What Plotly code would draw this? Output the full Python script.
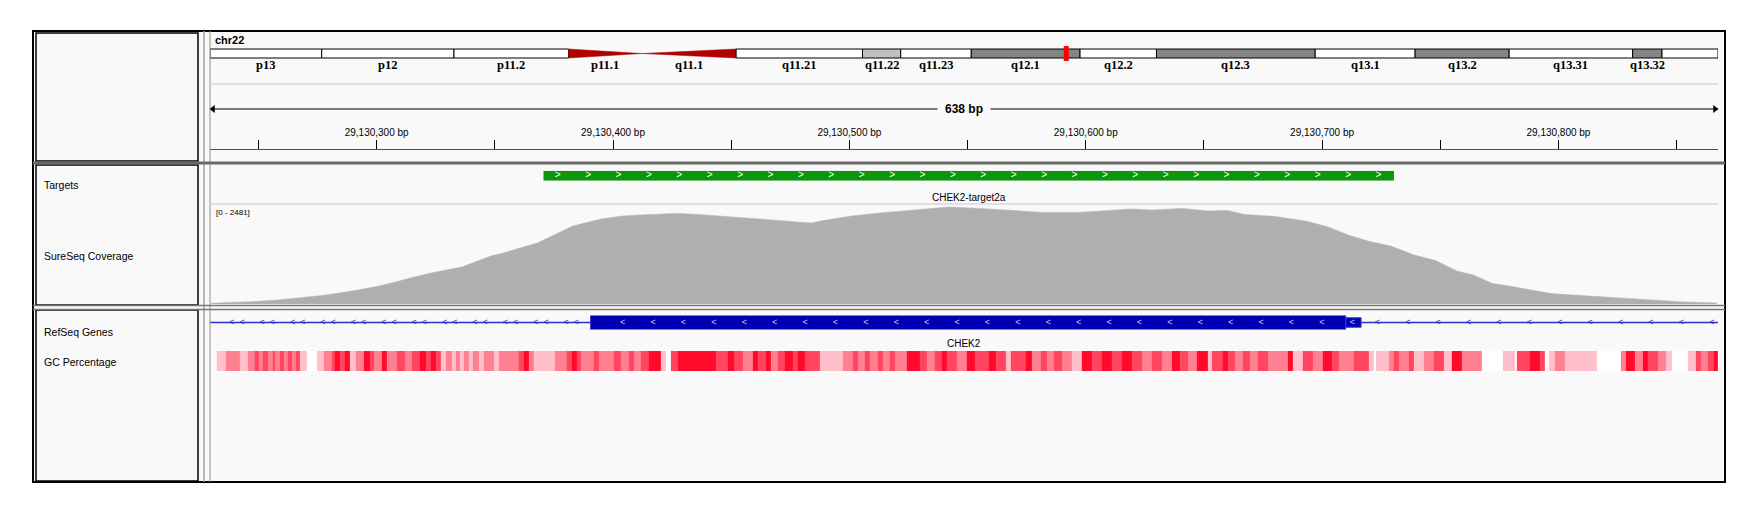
import numpy as np
import plotly.graph_objects as go

W, H = 1759, 518

# ---- data ----
chrom = "chr22"
chrom_len_mb = 51.304566
view_start = 29130229.5
view_end = 29130867.5

band_names = ["p13", "p12", "p11.2", "p11.1", "q11.1", "q11.21", "q11.22", "q11.23",
              "q12.1", "q12.2", "q12.3", "q13.1", "q13.2", "q13.31", "q13.32", "q13.33"]
band_labels = ["p13", "p12", "p11.2", "p11.1", "q11.1", "q11.21", "q11.22", "q11.23",
               "q12.1", "q12.2", "q12.3", "q13.1", "q13.2", "q13.31", "q13.32", ""]
band_start_mb = [0.0, 3.8, 8.3, 12.2, 14.7, 17.9, 22.2, 23.5, 25.9, 29.6, 32.2, 37.6, 41.0, 44.2, 48.4, 49.4]
band_end_mb = [3.8, 8.3, 12.2, 14.7, 17.9, 22.2, 23.5, 25.9, 29.6, 32.2, 37.6, 41.0, 44.2, 48.4, 49.4, 51.304566]
band_stain = ["gvar", "stalk", "gvar", "acen", "acen", "gneg", "gpos25", "gneg",
              "gpos50", "gneg", "gpos50", "gneg", "gpos50", "gneg", "gpos50", "gneg"]

target_name = "CHEK2-target2a"
target_start = 29130370.6
target_end = 29130730.4

gene_name = "CHEK2"
gene_tx_start = 29083730
gene_tx_end = 29137822
exon_start = 29130390.5
cds_end = 29130710.0
exon_end = 29130716.5

cov_max = 2481
cov_pos = [29130230, 29130236, 29130247, 29130257, 29130266, 29130278, 29130291, 29130300,
           29130308, 29130315, 29130323, 29130336, 29130349, 29130352, 29130368, 29130383,
           29130395, 29130404, 29130416, 29130427, 29130436, 29130448, 29130462, 29130478,
           29130484, 29130489, 29130501, 29130513, 29130527, 29130542, 29130555, 29130568,
           29130582, 29130597, 29130610, 29130619, 29130628, 29130641, 29130652, 29130660,
           29130667, 29130680, 29130693, 29130702, 29130711, 29130720, 29130729, 29130739,
           29130748, 29130757, 29130764, 29130772, 29130779, 29130786, 29130797, 29130803,
           29130827, 29130851, 29130867]
cov_depth = [20, 30, 57, 92, 144, 218, 335, 434,
             546, 660, 769, 918, 1203, 1240, 1513, 1935,
             2109, 2183, 2223, 2248, 2223, 2163, 2109, 2034,
             2010, 2072, 2183, 2258, 2332, 2407, 2372, 2322,
             2273, 2273, 2322, 2357, 2332, 2372, 2307, 2322,
             2223, 2173, 2059, 1923, 1712, 1553, 1439, 1216,
             1077, 819, 719, 509, 447, 367, 258, 236,
             139, 57, 25]

# GC percentage windows: edges are bp offsets from view_start
gc_edges = [2.9, 6.5, 12.8, 16.0, 19.1, 20.8, 22.3, 24.4, 26.5, 27.6,
            29.7, 31.1, 32.8, 34.5, 36.4, 38.1, 40.8, 45.0, 48.2, 51.4,
            52.8, 54.9, 57.0, 59.2, 61.7, 65.0, 67.6, 69.3, 72.8, 74.9,
            79.2, 82.3, 85.5, 88.6, 91.2, 93.3, 95.4, 97.5, 99.6, 102.3,
            104.0, 105.5, 107.2, 109.7, 111.4, 113.9, 116.0, 120.2, 122.3, 130.7,
            132.9, 135.0, 137.1, 145.9, 150.8, 152.9, 155.0, 157.1, 162.3, 164.4,
            170.8, 173.9, 177.1, 179.2, 182.3, 185.5, 190.8, 192.9, 195.0, 198.1,
            213.9, 219.2, 221.7, 225.5, 229.7, 231.8, 235.0, 237.1, 240.2, 243.4,
            246.6, 248.7, 251.8, 258.1, 267.6, 271.8, 273.9, 277.1, 279.2, 282.4,
            284.5, 287.6, 289.7, 295.0, 300.3, 303.4, 306.6, 309.7, 311.8, 316.1,
            320.3, 323.5, 329.4, 332.5, 336.8, 338.9, 345.3, 347.5, 351.7, 353.9,
            357.0, 360.2, 364.5, 368.8, 373.0, 377.3, 381.5, 385.8, 390.1, 394.3,
            398.6, 402.8, 407.1, 410.3, 413.5, 417.7, 422.0, 423.7, 428.4, 430.5,
            433.7, 436.9, 440.1, 443.3, 447.6, 456.1, 458.2, 462.5, 466.7, 471.0,
            474.8, 477.4, 483.8, 490.2, 492.3, 493.4, 498.7, 500.8, 503.0, 507.2,
            509.3, 513.6, 517.9, 522.1, 525.3, 529.6, 538.1, 547.0, 551.9, 553.0,
            558.3, 562.6, 564.7, 566.4, 569.0, 573.2, 586.7, 596.7, 598.8, 603.0,
            606.2, 608.4, 612.6, 615.8, 618.6, 625.4, 628.6, 630.7, 633.9, 636.1,
            638.0]
gc_values = [35, 50, 35, 50, 62, 50, 62, 50, 62, 50,
             62, 50, 62, 50, 62, 35, 0, 35, 50, 62,
             75, 62, 75, 35, 50, 75, 62, 50, 75, 50,
             62, 50, 62, 75, 62, 75, 62, 35, 50, 35,
             50, 35, 50, 35, 50, 35, 50, 35, 50, 62,
             75, 50, 35, 50, 62, 75, 62, 50, 62, 50,
             62, 50, 62, 50, 62, 75, 35, 0, 62, 75,
             62, 75, 62, 50, 75, 62, 75, 50, 62, 75,
             62, 75, 62, 35, 50, 62, 50, 62, 50, 62,
             50, 62, 50, 75, 62, 50, 62, 75, 62, 50,
             75, 62, 75, 62, 35, 62, 75, 50, 62, 50,
             62, 50, 35, 75, 62, 75, 62, 75, 62, 50,
             62, 50, 75, 62, 50, 75, 35, 62, 75, 62,
             50, 62, 50, 62, 50, 75, 35, 62, 50, 75,
             62, 50, 62, 35, 0, 35, 50, 62, 50, 62,
             35, 50, 62, 35, 75, 50, 0, 35, 0, 62,
             75, 62, 0, 35, 50, 35, 0, 50, 75, 50,
             75, 62, 50, 35, 0, 35, 62, 50, 62, 75]
assert len(gc_edges) == len(gc_values) + 1

# ---- layout helpers (pixel -> paper) ----
DX0, DX1 = 210, 1718
FR = 1725  # right edge of the outer frame
bp_per_px = (view_end - view_start) / (DX1 - DX0)


def px(x):
    return x / W


def py(y):
    return 1 - y / H


def ydom(top, bottom):
    return [py(bottom), py(top)]


def rect(x0, y0, x1, y1, **kw):
    return dict(type="rect", xref="paper", yref="paper",
                x0=px(x0), x1=px(x1), y0=py(y1), y1=py(y0), **kw)


def line(x0, y0, x1, y1, color, width):
    return dict(type="line", xref="paper", yref="paper",
                x0=px(x0), x1=px(x1), y0=py(y0), y1=py(y1),
                line=dict(color=color, width=width))


stain_color = {"gneg": "white", "gvar": "white", "stalk": "white",
               "gpos25": "#c0c0c0", "gpos50": "#858585", "acen": "#b00000"}

fig = go.Figure()

# ideogram
for s, e, st in zip(band_start_mb, band_end_mb, band_stain):
    if st == "acen":
        if s < 14.0:
            xs, ys = [s, s, e, s], [0, 1, 0.5, 0]
        else:
            xs, ys = [s, e, e, s], [0.5, 1, 0, 0.5]
        fig.add_trace(go.Scatter(x=xs, y=ys, fill="toself", mode="lines",
                                 fillcolor=stain_color[st], line=dict(color=stain_color[st], width=0.5),
                                 xaxis="x2", yaxis="y2", hoverinfo="skip"))
    else:
        fig.add_trace(go.Scatter(x=[s, e, e, s, s], y=[0, 0, 1, 1, 0], fill="toself", mode="lines",
                                 fillcolor=stain_color[st], line=dict(color="black", width=1),
                                 xaxis="x2", yaxis="y2", hoverinfo="skip"))
# current locus marker
loc_mb = (view_start + view_end) / 2 / 1e6
mw = 2.5 * chrom_len_mb / (DX1 - DX0)
fig.add_trace(go.Scatter(x=[loc_mb - mw, loc_mb + mw, loc_mb + mw, loc_mb - mw, loc_mb - mw],
                         y=[-0.33, -0.33, 1.33, 1.33, -0.33], fill="toself", mode="lines",
                         fillcolor="#ff0000", line=dict(color="#ff0000", width=0),
                         xaxis="x2", yaxis="y2", hoverinfo="skip"))

# ruler arrow
fig.add_trace(go.Scatter(x=[view_start, view_end], y=[0, 0], mode="lines",
                         line=dict(color="black", width=1), xaxis="x", yaxis="y7", hoverinfo="skip"))
fig.add_trace(go.Scatter(x=[view_start + 3 * bp_per_px, view_end - 3 * bp_per_px], y=[0, 0],
                         mode="markers", marker=dict(symbol=["triangle-left", "triangle-right"],
                                                     size=7, color="black"),
                         cliponaxis=False, xaxis="x", yaxis="y7", hoverinfo="skip"))
# dummy trace so the ruler axis is drawn
fig.add_trace(go.Scatter(x=[view_start], y=[0.5], mode="markers", marker=dict(opacity=0),
                         xaxis="x3", yaxis="y3", hoverinfo="skip"))

# target
fig.add_trace(go.Scatter(x=[target_start, target_end, target_end, target_start, target_start],
                         y=[0, 0, 1, 1, 0], fill="toself", mode="lines",
                         fillcolor="#0c960c", line=dict(color="#0c960c", width=0),
                         xaxis="x", yaxis="y4", hoverinfo="skip"))
step = 30.4 * bp_per_px
tchev = np.arange(target_start + 6, target_end - 2, step)
fig.add_trace(go.Scatter(x=tchev, y=[0.5] * len(tchev), mode="text", text=[">"] * len(tchev),
                         textfont=dict(color="white", size=10, family="Liberation Sans"),
                         xaxis="x", yaxis="y4", hoverinfo="skip"))

# coverage
fig.add_trace(go.Scatter(x=cov_pos, y=cov_depth, mode="lines", fill="tozeroy",
                         fillcolor="#afafaf", line=dict(color="#afafaf", width=0.5),
                         xaxis="x", yaxis="y", hoverinfo="skip"))

# gene
fig.add_trace(go.Scatter(x=[gene_tx_start, gene_tx_end], y=[0.5, 0.5], mode="lines",
                         line=dict(color="#3030c8", width=1.3), xaxis="x", yaxis="y5", hoverinfo="skip"))
fig.add_trace(go.Scatter(x=[exon_start, cds_end, cds_end, exon_start, exon_start],
                         y=[0, 0, 1, 1, 0], fill="toself", mode="lines",
                         fillcolor="#0000b2", line=dict(color="#3a3ad0", width=1),
                         xaxis="x", yaxis="y5", hoverinfo="skip"))
fig.add_trace(go.Scatter(x=[cds_end, exon_end, exon_end, cds_end, cds_end],
                         y=[0.16, 0.16, 0.84, 0.84, 0.16], fill="toself", mode="lines",
                         fillcolor="#0000b2", line=dict(color="#3a3ad0", width=1),
                         xaxis="x", yaxis="y5", hoverinfo="skip"))
left_arr = np.arange(view_start + 9.2, exon_start - 2, step)
left_arr = np.concatenate([left_arr, left_arr + 10.3 * bp_per_px])
right_arr = np.arange(exon_end + 6.9, view_end, step)
intr = np.concatenate([left_arr, right_arr])
fig.add_trace(go.Scatter(x=intr, y=[0.5] * len(intr), mode="text", text=["<"] * len(intr),
                         textfont=dict(color="#3030c8", size=9, family="Liberation Sans"),
                         xaxis="x", yaxis="y5", hoverinfo="skip"))
ex_arr = np.arange(exon_start + 13.6, exon_end - 1, step)
fig.add_trace(go.Scatter(x=ex_arr, y=[0.5] * len(ex_arr), mode="text", text=["<"] * len(ex_arr),
                         textfont=dict(color="#c8c8ff", size=9, family="Liberation Sans"),
                         xaxis="x", yaxis="y5", hoverinfo="skip"))

# GC percentage
fig.add_trace(go.Heatmap(x=[view_start + e for e in gc_edges], y=[0], z=[gc_values],
                         zmin=0, zmax=75, showscale=False, hoverinfo="skip",
                         colorscale=[[0, "#ffffff"], [35 / 75, "#ffc0cb"], [50 / 75, "#ff8090"],
                                     [62 / 75, "#ff4560"], [1, "#ff0a2a"]],
                         xaxis="x", yaxis="y6"))

# ---- frames ----
shapes = [
    rect(33, 31, FR, 482, fillcolor="#f9f9f9", line=dict(color="black", width=2), layer="below"),
    rect(36, 33, 198, 161, line=dict(color="black", width=1.5)),
    rect(36, 165, 198, 305, line=dict(color="black", width=1.5)),
    rect(36, 310, 198, 481, line=dict(color="black", width=1.5)),
    line(204, 31, 204, 482, "#a0a0a0", 1.5),
    line(210, 31, 210, 482, "#909090", 1),
    line(33, 163, FR, 163, "#6a6a6a", 3),
    line(33, 305.5, FR, 305.5, "#777777", 1.5),
    line(33, 309.5, FR, 309.5, "#777777", 1.5),
    line(210, 84, DX1, 84, "#d4d4dc", 1.5),
    line(210, 204, DX1, 204, "#c8c8d0", 1),
]

ann = []
font_sans = "Liberation Sans"
ann.append(dict(x=px(213), y=py(40), xref="paper", yref="paper", text="<b>" + chrom + "</b>",
                showarrow=False, xanchor="left", yanchor="middle",
                font=dict(size=11, color="black", family=font_sans)))
for s, e, lab in zip(band_start_mb, band_end_mb, band_labels):
    if lab:
        ann.append(dict(x=(s + e) / 2, y=py(65), xref="x2", yref="paper", text="<b>" + lab + "</b>",
                        showarrow=False, xanchor="center", yanchor="middle",
                        font=dict(size=12.5, color="black", family="Liberation Serif")))
ann.append(dict(x=(view_start + view_end) / 2, y=py(109), xref="x", yref="paper",
                text="<b>%d bp</b>" % round(view_end - view_start), showarrow=False,
                xanchor="center", yanchor="middle",
                bgcolor="#f9f9f9", borderpad=7, font=dict(size=12, color="black", family=font_sans)))
ann.append(dict(x=px(214), y=py(212), xref="paper", yref="paper", text="[0 - %d]" % cov_max,
                showarrow=False, xanchor="left", yanchor="middle",
                font=dict(size=8, color="black", family=font_sans)))
ann.append(dict(x=(target_start + target_end) / 2, y=py(197), xref="x", yref="paper", text=target_name,
                showarrow=False, xanchor="center", yanchor="middle",
                font=dict(size=10, color="black", family=font_sans)))
ann.append(dict(x=(view_start + view_end) / 2, y=py(343), xref="x", yref="paper", text=gene_name,
                showarrow=False, xanchor="center", yanchor="middle",
                font=dict(size=10, color="black", family=font_sans)))
for name, yy in [("Targets", 185), ("SureSeq Coverage", 256), ("RefSeq Genes", 332), ("GC Percentage", 362)]:
    ann.append(dict(x=px(42), y=py(yy), xref="paper", yref="paper", text=name, showarrow=False,
                    xanchor="left", yanchor="middle", font=dict(size=10.5, color="black", family=font_sans)))

hid = dict(visible=False, fixedrange=True)
xdom = [px(DX0), px(DX1)]
fig.update_layout(
    width=W, height=H, margin=dict(l=0, r=0, t=0, b=0),
    paper_bgcolor="white", plot_bgcolor="rgba(0,0,0,0)", showlegend=False,
    font=dict(family=font_sans),
    shapes=shapes, annotations=ann,
    xaxis=dict(domain=xdom, range=[view_start, view_end], anchor="y", **hid),
    xaxis2=dict(domain=xdom, range=[0, chrom_len_mb], anchor="y2", **hid),
    xaxis3=dict(domain=xdom, range=[view_start, view_end], anchor="y3", side="top",
                showline=True, linecolor="#505050", linewidth=1, showgrid=False, zeroline=False,
                ticks="outside", ticklen=9, tickwidth=1, tickcolor="black",
                tick0=0, dtick=100, tickformat=",d", ticksuffix=" bp",
                tickfont=dict(size=10, color="black", family=font_sans),
                minor=dict(ticks="outside", ticklen=9, tickwidth=1, tickcolor="black", dtick=50, showgrid=False),
                fixedrange=True),
    yaxis=dict(domain=ydom(204, 304), range=[0, cov_max], anchor="x", **hid),
    yaxis2=dict(domain=ydom(44, 63), range=[-5 / 9, 1 + 5 / 9], anchor="x2", **hid),
    yaxis3=dict(domain=ydom(150, 161), range=[0, 1], anchor="x3", **hid),
    yaxis4=dict(domain=ydom(170.7, 180.7), range=[0, 1], anchor="x", **hid),
    yaxis5=dict(domain=ydom(315.5, 329.5), range=[0, 1], anchor="x", **hid),
    yaxis6=dict(domain=ydom(351, 371), range=[-0.5, 0.5], anchor="x", **hid),
    yaxis7=dict(domain=ydom(104, 114), range=[-1, 1], anchor="x", **hid),
)

fig.write_html("out.html", config={"displayModeBar": False},
               post_script="document.body.style.margin='0px';")
